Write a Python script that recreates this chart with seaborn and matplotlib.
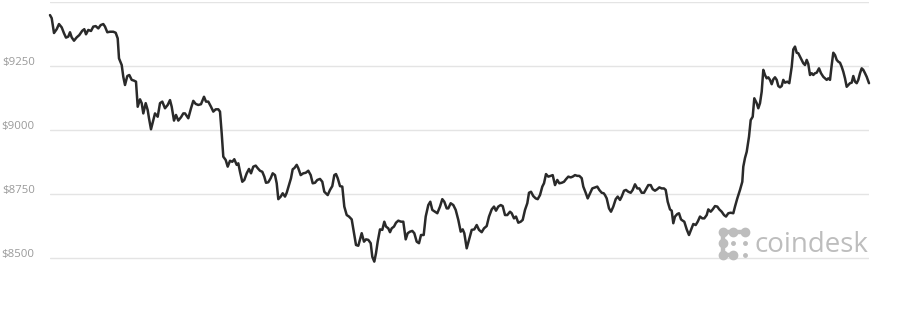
import matplotlib
matplotlib.use("Agg")
import matplotlib.pyplot as plt
import matplotlib.transforms as mtransforms
from matplotlib.lines import Line2D
import seaborn as sns
import pandas as pd

# time (arbitrary units along the 24h window) and BTC price in USD
time = [0, 1.7, 4, 6.7, 9, 11.7, 14, 16, 18.3, 20, 21.7, 24, 26.7, 29.3, 32.3, 34.3, 36, 38.3, 41, 43.3,
        45.7, 48.3, 50.7, 53.3, 55, 57.3, 60, 63.3, 65.7, 67.7, 69, 71.7, 73.3, 75, 77.3, 79.3, 81.7, 84, 86, 87.7,
        90, 91.7, 93.3, 95.7, 97.7, 99, 101, 103.3, 105, 107.7, 110, 112.3, 115, 117.7, 120, 121.7, 124, 126, 128.3, 131,
        133.3, 135, 138.3, 141, 143.3, 145.7, 148.3, 151, 154, 156, 158.3, 161, 163.3, 165.7, 168.3, 170, 171.7, 173.3, 175.7, 177.7,
        180, 182.3, 184.3, 186.7, 188.3, 190, 192.3, 194.3, 196.7, 199, 201, 203.3, 205.7, 207.7, 210, 212.3, 214.3, 216, 218.3, 220.7,
        222.7, 225, 226.7, 228.3, 230.7, 232.7, 235, 236.7, 239, 241, 242.7, 244.3, 246.7, 248.3, 250.7, 253.3, 255.7, 258.3, 260.7, 262.7,
        265, 267.3, 270, 272.3, 274.3, 277.7, 280, 282.3, 284.3, 286, 287.7, 290, 292.3, 294.3, 296.7, 299, 301.7, 304, 306, 308.3,
        310.3, 311.7, 314, 316, 318.3, 320.7, 322.3, 324.3, 326, 327.7, 330, 332.3, 334.3, 336, 338.3, 340, 341.7, 344, 346, 348.3,
        351, 353.3, 355.7, 357.7, 360, 362.3, 364.3, 366.7, 369, 371, 373.7, 375.7, 378.3, 380.3, 382.3, 385, 387.3, 390, 392.3, 394.3,
        396.7, 398.3, 400.7, 403.3, 405.7, 408.3, 410.7, 412.7, 414.3, 416.7, 419, 421.7, 424.3, 426.7, 429, 431.7, 434, 436.7, 439, 441.7,
        444, 446, 448.3, 450.7, 452.7, 455, 457.3, 460, 461.7, 464, 466, 468.3, 470.7, 472.7, 475, 477.3, 479, 481, 483.3, 485.7,
        487.7, 490, 492.3, 494, 496, 498.3, 500.7, 502.7, 505, 507.3, 509.3, 511.7, 514, 516, 518.3, 520.7, 522.7, 525, 527.3, 529.3,
        531.7, 533.3, 535.7, 537.7, 540, 542.3, 545, 547.3, 549.3, 551.7, 553.7, 555, 556.7, 559, 561, 563.3, 565.7, 567.7, 570, 571.7,
        574, 576, 578.3, 580.7, 582.7, 585, 587.3, 589.3, 591.7, 594, 596, 598.3, 600.7, 602.7, 605, 607.3, 609.3, 611.7, 614, 615.7,
        617.7, 620, 621.7, 623.3, 625, 627.3, 629, 631, 632.7, 634.3, 636.7, 639, 641, 643.3, 645.7, 647.7, 650, 652.3, 654.3, 656.7,
        658.3, 660.7, 662.7, 665, 667.3, 669.3, 671.7, 674, 676, 678.3, 680.7, 683.3, 685, 687.3, 690, 692.3, 693.3, 695, 696.7, 699,
        700.7, 702.7, 704.3, 706.7, 708.3, 710, 711.7, 713.3, 715, 716.7, 718.3, 720, 721.7, 723.3, 725, 726.7, 728.3, 730, 731.7, 733.3,
        735, 737.3, 739.3, 741.7, 743.3, 745, 746.7, 748.3, 750, 751.7, 753.3, 755, 756.7, 758.3, 760, 761.7, 763.3, 765, 766.7, 769,
        771, 773.3, 775, 776.7, 778.3, 780, 781.7, 783.3, 785, 786.7, 788.3, 790, 791.7, 793.3, 795, 796.7, 798.3, 800, 801.7, 803.3,
        805, 806.7, 808.3, 810, 811.7, 813.3, 815, 816.7, 819]

price = [9450, 9438, 9380, 9395, 9415, 9402, 9379, 9362, 9366, 9383, 9363, 9350, 9363, 9372, 9389, 9395, 9375, 9392, 9388, 9405,
         9407, 9398, 9411, 9415, 9405, 9383, 9385, 9385, 9381, 9359, 9281, 9255, 9209, 9177, 9212, 9216, 9197, 9194, 9190, 9092,
         9121, 9106, 9066, 9106, 9079, 9047, 9004, 9040, 9066, 9053, 9106, 9112, 9086, 9099, 9118, 9092, 9038, 9060, 9038, 9051,
         9066, 9066, 9047, 9086, 9115, 9103, 9099, 9102, 9131, 9112, 9112, 9092, 9073, 9082, 9082, 9073, 8988, 8897, 8884, 8858,
         8881, 8877, 8887, 8865, 8871, 8838, 8799, 8806, 8832, 8849, 8832, 8858, 8862, 8852, 8842, 8838, 8819, 8795, 8797, 8813,
         8832, 8825, 8793, 8731, 8741, 8754, 8741, 8756, 8786, 8813, 8848, 8852, 8865, 8852, 8825, 8832, 8834, 8842, 8825, 8793,
         8795, 8806, 8810, 8799, 8760, 8747, 8767, 8782, 8825, 8829, 8813, 8782, 8780, 8702, 8669, 8663, 8652, 8598, 8552, 8549,
         8578, 8598, 8565, 8574, 8572, 8559, 8506, 8487, 8520, 8565, 8613, 8611, 8643, 8624, 8617, 8602, 8617, 8624, 8639, 8647,
         8643, 8643, 8574, 8598, 8604, 8607, 8598, 8565, 8559, 8591, 8591, 8663, 8708, 8721, 8689, 8682, 8676, 8702, 8731, 8721,
         8695, 8695, 8715, 8708, 8689, 8650, 8604, 8613, 8598, 8539, 8572, 8611, 8613, 8630, 8611, 8602, 8617, 8626, 8663, 8691,
         8702, 8686, 8702, 8708, 8704, 8669, 8669, 8682, 8676, 8656, 8663, 8639, 8643, 8650, 8689, 8715, 8756, 8760, 8743, 8734,
         8731, 8747, 8780, 8793, 8829, 8819, 8822, 8825, 8786, 8806, 8793, 8795, 8799, 8809, 8819, 8816, 8819, 8825, 8822, 8822,
         8813, 8780, 8756, 8734, 8754, 8773, 8777, 8780, 8767, 8756, 8754, 8747, 8734, 8695, 8682, 8702, 8731, 8741, 8728, 8741,
         8764, 8767, 8760, 8756, 8767, 8789, 8773, 8773, 8756, 8756, 8770, 8786, 8786, 8770, 8764, 8770, 8777, 8773, 8773, 8767,
         8721, 8691, 8686, 8637, 8663, 8673, 8676, 8652, 8647, 8643, 8613, 8591, 8611, 8634, 8630, 8643, 8663, 8656, 8656, 8669,
         8691, 8682, 8691, 8704, 8702, 8691, 8682, 8669, 8663, 8676, 8678, 8676, 8702, 8734, 8767, 8799, 8858, 8892, 8916, 8975,
         9040, 9053, 9125, 9106, 9086, 9106, 9151, 9236, 9216, 9203, 9207, 9197, 9180, 9199, 9207, 9197, 9173, 9168, 9173, 9197,
         9186, 9190, 9184, 9248, 9316, 9327, 9303, 9301, 9288, 9275, 9262, 9255, 9275, 9259, 9216, 9223, 9216, 9223, 9225, 9242,
         9223, 9209, 9203, 9197, 9203, 9197, 9255, 9303, 9294, 9275, 9268, 9264, 9248, 9229, 9203, 9170, 9177, 9184, 9186, 9212,
         9190, 9184, 9197, 9223, 9242, 9236, 9223, 9209, 9184]

grid_levels = [8500, 8750, 9000, 9250, 9500]
tick_values = [8500, 8750, 9000, 9250]
tick_labels = ["$8500", "$8750", "$9000", "$9250"]
watermark = "coindesk"

df = pd.DataFrame({"time": time, "price": price})

sns.set_theme(style="white")
plt.rcParams["font.family"] = ["Open Sans", "DejaVu Sans"]

W, H = 899, 317
fig = plt.figure(figsize=(W / 100, H / 100), dpi=100)
ax = fig.add_axes([50 / W, 1 - 283.9 / H, 819 / W, (283.9 - 2.3) / H])

for g in grid_levels:
    ax.axhline(g, color="#e4e4e4", linewidth=1.0, zorder=0)

sns.lineplot(data=df, x="time", y="price", ax=ax, color="#2a2a2a", linewidth=1.8,
             clip_on=False, zorder=3)

ax.set_xlim(0, 819)
ax.set_ylim(8400, 9500)
ax.set_xticks([])
ax.set_yticks(tick_values)
ax.set_yticklabels(tick_labels)
ax.tick_params(axis="y", length=0, pad=11, labelsize=8.2, labelcolor="#999999")
offset = mtransforms.ScaledTranslation(0, 0.055, fig.dpi_scale_trans)
for lab in ax.get_yticklabels():
    lab.set_transform(lab.get_transform() + offset)
ax.set_xlabel("")
ax.set_ylabel("")
for s in ax.spines.values():
    s.set_visible(False)

# coindesk watermark
wm_color = "#bdbdbd"
def fx(px):
    return px / W
def fy(py):
    return 1 - py / H

segs = [((723.3, 231.7), (745, 231.7)), ((723.3, 231.7), (723.3, 255)), ((723.3, 255), (733.3, 255))]
for (x0, y0), (x1, y1) in segs:
    fig.add_artist(Line2D([fx(x0), fx(x1)], [fy(y0), fy(y1)], transform=fig.transFigure,
                          color=wm_color, linewidth=3.2, solid_capstyle="round", zorder=5))
big = [(723.3, 231.7), (733.3, 231.7), (745, 231.7), (723.3, 243.3), (723.3, 255), (733.3, 255)]
for (x0, y0) in big:
    fig.add_artist(Line2D([fx(x0)], [fy(y0)], transform=fig.transFigure, marker="o",
                          markersize=6, color=wm_color, zorder=5))
small = [(745, 243.3), (745, 255), (733.3, 243.3)]
for (x0, y0) in small:
    fig.add_artist(Line2D([fx(x0)], [fy(y0)], transform=fig.transFigure, marker="o",
                          markersize=2.5, color=wm_color, zorder=5))

fig.text(fx(755), fy(251.5), watermark, fontsize=20, color=wm_color,
         family=["Open Sans", "DejaVu Sans"], ha="left", va="baseline")

fig.savefig("out.png", dpi=100, facecolor="white")
